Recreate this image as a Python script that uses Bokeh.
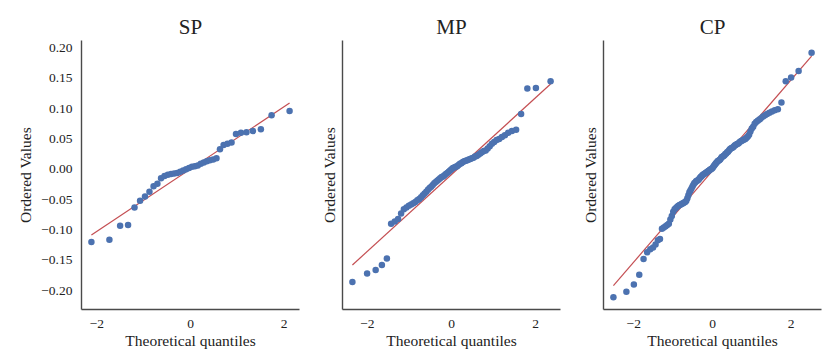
from statistics import NormalDist
import numpy as np
from bokeh.plotting import figure
from bokeh.layouts import row
from bokeh.models import Range1d, FixedTicker, CustomJSTickFormatter
from bokeh.embed import file_html
from bokeh.resources import INLINE

# ---- data (ordered sample values) ----
titles = ["SP", "MP", "CP"]

sp_values = [-0.120, -0.116, -0.093, -0.092, -0.063, -0.052, -0.045, -0.037, -0.028, -0.024,
             -0.015, -0.011, -0.009, -0.008, -0.007, -0.006, -0.004, -0.002, 0.000, 0.002,
             0.004, 0.005, 0.006, 0.009, 0.011, 0.013, 0.015, 0.016, 0.018, 0.033,
             0.040, 0.042, 0.044, 0.058, 0.060, 0.061, 0.063, 0.066, 0.089, 0.096]

mp_values = [-0.186, -0.172, -0.166, -0.158, -0.147, -0.090, -0.086, -0.082, -0.073, -0.066,
             -0.063, -0.060, -0.058, -0.056, -0.054, -0.051, -0.049, -0.046, -0.043, -0.040,
             -0.037, -0.034, -0.031, -0.029, -0.026, -0.023, -0.021, -0.019, -0.017, -0.015,
             -0.013, -0.012, -0.010, -0.008, -0.006, -0.004, -0.002, 0.000, 0.002, 0.003,
             0.004, 0.005, 0.007, 0.009, 0.010, 0.012, 0.013, 0.014, 0.015, 0.016,
             0.017, 0.018, 0.019, 0.021, 0.022, 0.024, 0.026, 0.028, 0.030, 0.031,
             0.034, 0.038, 0.042, 0.045, 0.048, 0.050, 0.053, 0.056, 0.060, 0.063,
             0.065, 0.091, 0.133, 0.134, 0.145]

cp_values = [-0.211, -0.202, -0.190, -0.174, -0.148, -0.137, -0.132, -0.129, -0.124, -0.117,
             -0.115, -0.098, -0.096, -0.094, -0.092, -0.090, -0.083, -0.077, -0.070, -0.066,
             -0.064, -0.062, -0.060, -0.059, -0.058, -0.057, -0.056, -0.055, -0.054, -0.052,
             -0.048, -0.043, -0.038, -0.035, -0.032, -0.029, -0.026, -0.023, -0.022, -0.020,
             -0.019, -0.018, -0.017, -0.015, -0.013, -0.012, -0.010, -0.009, -0.008, -0.007,
             -0.006, -0.005, -0.004, -0.003, -0.002, -0.001, 0.000, 0.001, 0.002, 0.004,
             0.006, 0.008, 0.010, 0.011, 0.013, 0.014, 0.015, 0.016, 0.018, 0.020,
             0.021, 0.022, 0.023, 0.025, 0.026, 0.028, 0.029, 0.031, 0.033, 0.034,
             0.035, 0.036, 0.037, 0.039, 0.040, 0.041, 0.042, 0.043, 0.045, 0.046,
             0.047, 0.048, 0.049, 0.050, 0.052, 0.054, 0.057, 0.062, 0.067, 0.070,
             0.075, 0.078, 0.080, 0.082, 0.084, 0.087, 0.089, 0.091, 0.093, 0.095,
             0.097, 0.099, 0.110, 0.145, 0.151, 0.162, 0.192]

x_ticks = [-2, 0, 2]
y_ticks = [-0.20, -0.15, -0.10, -0.05, 0.00, 0.05, 0.10, 0.15, 0.20]

x_label = "Theoretical quantiles"
y_label = "Ordered Values"

# ---- styling ----
FONT = "Liberation Serif"
DOT = "#4C72B0"
LINE = "#C44E52"
AXIS = "#4a4a4a"


def theoretical_quantiles(n):
    # Filliben's order statistic medians (as used by probplot)
    m = np.array([(i - 0.3175) / (n + 0.365) for i in range(1, n + 1)])
    m[-1] = 0.5 ** (1.0 / n)
    m[0] = 1 - m[-1]
    nd = NormalDist()
    return np.array([nd.inv_cdf(v) for v in m])


all_vals = sp_values + mp_values + cp_values
lo, hi = min(all_vals), max(all_vals)
pad = 0.05 * (hi - lo)
y_range = Range1d(lo - pad, hi + pad)

series = [sp_values, mp_values, cp_values]
figs = []
for k, (title, vals) in enumerate(zip(titles, series)):
    vals = np.array(vals)
    q = theoretical_quantiles(len(vals))
    xpad = 0.05 * (q.max() - q.min())
    left_border = 81 if k == 0 else 41
    right_border = 2 if k < 2 else 6
    p = figure(width=left_border + 218 + right_border, height=354,
               x_range=Range1d(q.min() - xpad, q.max() + xpad), y_range=y_range,
               output_backend="svg", toolbar_location=None,
               min_border_left=left_border, min_border_right=right_border,
               min_border_top=40, min_border_bottom=45)
    p.outline_line_color = None
    p.xgrid.grid_line_color = None
    p.ygrid.grid_line_color = None
    p.background_fill_color = "white"

    p.title.text = title
    p.title.align = "center"
    p.title.text_font = FONT
    p.title.text_font_size = "21px"
    p.title.text_font_style = "normal"
    p.title.text_color = "#222222"
    p.title.standoff = 3

    slope, intercept = np.polyfit(q, vals, 1)
    p.line([q.min(), q.max()], [intercept + slope * q.min(), intercept + slope * q.max()],
           line_color=LINE, line_width=1.2)
    p.scatter(q, vals, size=6.5, fill_color=DOT, line_color=DOT, line_width=0)

    for ax in (p.xaxis[0], p.yaxis[0]):
        ax.axis_line_color = AXIS
        ax.axis_line_width = 1.4
        ax.major_tick_line_color = None
        ax.minor_tick_line_color = None
        ax.major_tick_out = 0
        ax.major_tick_in = 0
        ax.minor_tick_out = 0
        ax.major_label_text_font = FONT
        ax.major_label_text_font_size = "13.5px"
        ax.major_label_text_color = "#222222"
        ax.axis_label_text_font = FONT
        ax.axis_label_text_font_size = "15.5px"
        ax.axis_label_text_font_style = "normal"
        ax.axis_label_text_color = "#222222"

    p.xaxis.ticker = FixedTicker(ticks=x_ticks)
    p.xaxis.formatter = CustomJSTickFormatter(code="return tick.toFixed(0).replace('-', '\u2212');")
    p.xaxis.major_label_standoff = 10
    p.xaxis.axis_label = x_label
    p.xaxis.axis_label_standoff = 1

    p.yaxis.axis_label = y_label
    if k == 0:
        p.yaxis.ticker = FixedTicker(ticks=y_ticks)
        p.yaxis.formatter = CustomJSTickFormatter(code="return tick.toFixed(2).replace('-', '\u2212');")
        p.yaxis.major_label_standoff = 9
        p.yaxis.axis_label_standoff = 4
    else:
        p.yaxis.ticker = FixedTicker(ticks=[])
        p.yaxis.axis_label_standoff = 5
    figs.append(p)

layout = row(*figs, spacing=0)
open("out.html", "w").write(file_html(layout, INLINE))
